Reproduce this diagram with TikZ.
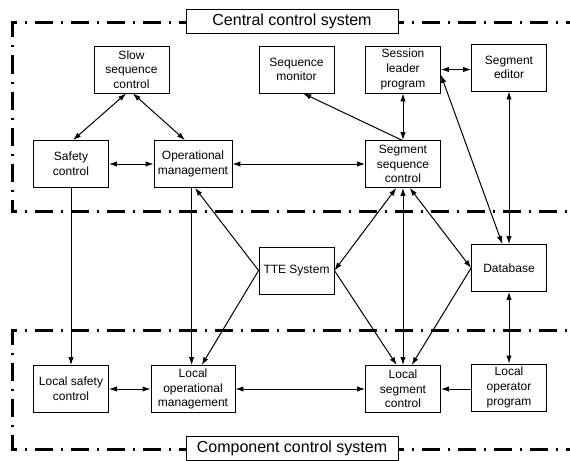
\documentclass[tikz,border=0pt]{standalone}
\usepackage{fontspec}
\setmainfont{Liberation Sans}
\usetikzlibrary{arrows.meta}

\begin{document}
\begin{tikzpicture}[x=0.75pt,y=-0.75pt,
  unit/.style={draw, line width=0.6pt, align=center, inner sep=1pt,
    minimum width=56.25pt, minimum height=35.25pt, font=\fontsize{9}{11}\selectfont},
  systitle/.style={draw, line width=0.6pt, fill=white, inner sep=0pt,
    minimum width=159pt, minimum height=17.5pt, font=\fontsize{12}{14}\selectfont},
  border/.style={line width=2.25pt, dash pattern=on 13.5pt off 6pt on 1.5pt off 6pt},
  twoway/.style={{Latex[length=6pt,width=4pt]}-{Latex[length=6pt,width=4pt]}, line width=0.75pt},
  oneway/.style={-{Latex[length=6pt,width=4pt]}, line width=0.75pt}]
  \useasboundingbox (0,0) rectangle (570,460);

  % central control system frame
  \draw[border, dash phase=9pt] (11.2,23) -- (186,23);
  \draw[border, dash phase=9pt] (398,23) -- (580,23);
  \draw[border, dash phase=1.5pt] (12.7,21.5) -- (12.7,213);
  \draw[border, dash phase=9pt] (11.2,211.7) -- (580,211.7);
  \node[systitle] (central) at (292,21.5) {Central control system};
  %%%%%%%%%%%%%%%%%%%%%
  % component control system frame
  \draw[border, dash phase=9pt] (11.2,330) -- (580,330);
  \draw[border, dash phase=1.5pt] (12.7,328.5) -- (12.7,450.5);
  \draw[border, dash phase=9pt] (11.2,449) -- (186,449);
  \draw[border, dash phase=9pt] (398,449) -- (580,449);
  \node[systitle] (component) at (292,448.5) {Component control system};
  %%%%%%%%%%%%%%%%%%%%%
  \node[unit] (slow) at (131.5,69.5) {Slow\\sequence\\control};
  \node[unit] (seqmon) at (296.5,69.5) {Sequence\\monitor};
  \node[unit] (session) at (403,69.5) {Session\\leader\\program};
  \node[unit] (editor) at (509,67.5) {Segment\\editor};
  \node[unit] (safety) at (71,164) {Safety\\control};
  \node[unit, minimum width=58.5pt] (opman) at (193,164) {Operational\\management};
  \node[unit] (segseq) at (403,164) {Segment\\sequence\\control};
  \node[unit] (tte) at (296.5,270.5) {TTE System};
  \node[unit] (db) at (509,268) {Database};
  \node[unit] (lsafety) at (71,389) {Local safety\\control};
  \node[unit, minimum width=63pt] (lopman) at (193,389) {Local\\operational\\management};
  \node[unit] (lseg) at (403,389) {Local\\segment\\control};
  \node[unit] (lopprog) at (509,387.5) {Local\\operator\\program};
  %%%%%%%%%%%%%%%%%%%%%
  \draw[twoway] ([xshift=-4pt]slow.south) -- ([xshift=1.5pt]safety.north);
  \draw[twoway] ([xshift=1pt]slow.south) -- ([xshift=-6pt]opman.north);
  \draw[twoway] (safety) -- (opman);
  \draw[twoway] (opman) -- (segseq);
  \draw[oneway] ([xshift=-1pt]segseq.north) -- ([xshift=5pt]seqmon.south);
  \draw[twoway] (segseq) -- (session);
  \draw[twoway] (session.east) -- (session.east -| editor.west);
  \draw[twoway] ([xshift=-5pt]db.north) -- ([yshift=-4pt]session.east);
  \draw[twoway] (db) -- (editor);
  %
  \draw[oneway] (safety) -- (lsafety);
  \draw[oneway] ([xshift=-1pt]opman.south) -- ([xshift=-1pt]lopman.north);
  \draw[oneway] (tte.west) -- ([xshift=1.5pt]opman.south);
  \draw[oneway] (tte.west) -- ([xshift=6.5pt]lopman.north);
  \draw[twoway] ([xshift=-5pt]segseq.south) -- (tte.east);
  \draw[oneway] (tte.east) -- ([xshift=-4.7pt]lseg.north);
  \draw[twoway] (segseq) -- (lseg);
  \draw[twoway] ([xshift=5pt]segseq.south) -- (db.west);
  \draw[oneway] (db.west) -- ([xshift=6.5pt]lseg.north);
  \draw[twoway] (db) -- (lopprog);
  %
  \draw[twoway] (lsafety) -- (lopman);
  \draw[twoway] (lopman) -- (lseg);
  \draw[oneway] (lseg.east -| lopprog.west) -- (lseg.east);
\end{tikzpicture}
\end{document}
